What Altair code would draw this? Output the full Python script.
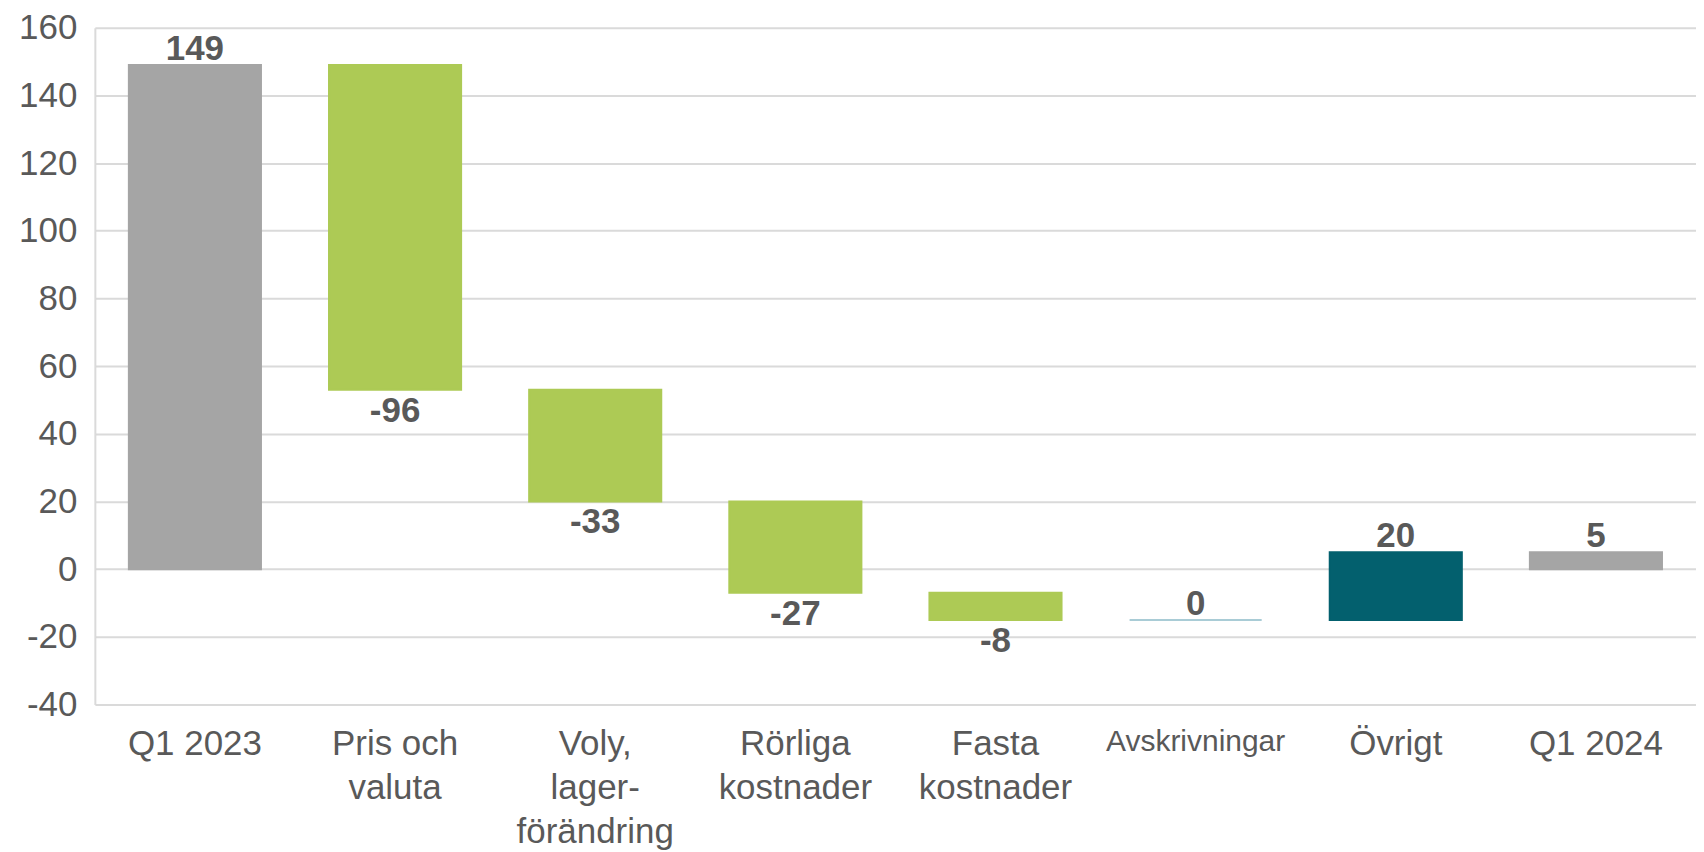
import altair as alt
import pandas as pd

categories = ["Q1 2023", "Pris och\nvaluta", "Voly,\nlager-\nförändring", "Rörliga\nkostnader",
              "Fasta\nkostnader", "Avskrivningar", "Övrigt", "Q1 2024"]
start_value = 149
deltas = [-96, -33, -27, -8, 0, 20]
end_value = 5
kinds = ["total", "neg", "neg", "neg", "neg", "zero", "pos", "total"]
label_texts = ["149", "-96", "-33", "-27", "-8", "0", "20", "5"]
y_ticks = [-40, -20, 0, 20, 40, 60, 80, 100, 120, 140, 160]

colors = {"total": "#A5A5A5", "neg": "#ADCA55", "zero": "#A9CCD6", "pos": "#03606E"}

rows = []
rows.append(dict(cat=categories[0], y0=0, y1=start_value, kind=kinds[0], lab=label_texts[0]))
run = start_value
for i, d in enumerate(deltas):
    new = run + d
    rows.append(dict(cat=categories[i + 1], y0=run, y1=new, kind=kinds[i + 1], lab=label_texts[i + 1]))
    run = new
rows.append(dict(cat=categories[-1], y0=0, y1=end_value, kind=kinds[-1], lab=label_texts[-1]))
df = pd.DataFrame(rows)
df["top"] = df[["y0", "y1"]].max(axis=1)
df["bot"] = df[["y0", "y1"]].min(axis=1)
df["above"] = df["kind"] != "neg"

FONT = "Liberation Sans"
TXT = "#595959"
FS = 35

xenc = alt.X("cat:N", sort=categories, title=None,
             scale=alt.Scale(paddingInner=0.34, paddingOuter=0.17),
             axis=alt.Axis(labelExpr="split(datum.label, '\\n')", labelAngle=0,
                           labelFontSize={"condition": {"test": "datum.label == 'Avskrivningar'", "value": 30}, "value": FS},
                           labelFont=FONT,
                           labelColor=TXT, labelLineHeight=44, labelPadding=22, labelLimit=400,
                           labelBaseline="top", domain=False, ticks=False, grid=False))

color_scale = alt.Scale(domain=list(colors.keys()), range=list(colors.values()))

bars = alt.Chart(df).mark_bar(strokeWidth=2).encode(
    x=xenc,
    y=alt.Y("y0:Q", title=None, scale=alt.Scale(domain=[-40, 160], nice=False),
            axis=alt.Axis(values=y_ticks, labelExpr="'' + datum.value", labelFontSize=FS,
                          labelColor=TXT, labelFont=FONT,
                          ticks=False, labelPadding=18, grid=True, gridColor="#DADADA",
                          gridWidth=2, domain=True, domainColor="#DADADA", domainWidth=2,
                          minExtent=80, maxExtent=80)),
    y2="y1:Q",
    color=alt.Color("kind:N", scale=color_scale, legend=None),
    stroke=alt.Stroke("kind:N", scale=color_scale, legend=None),
)

above = alt.Chart(df).transform_filter("datum.above").mark_text(
    fontSize=FS, fontWeight="bold", font=FONT, color=TXT, baseline="alphabetic", dy=-5
).encode(x=alt.X("cat:N", sort=categories), y="top:Q", text="lab:N")

below = alt.Chart(df).transform_filter("!datum.above").mark_text(
    fontSize=FS, fontWeight="bold", font=FONT, color=TXT, baseline="top", dy=4
).encode(x=alt.X("cat:N", sort=categories), y="bot:Q", text="lab:N")

chart = alt.layer(bars, above, below).properties(
    width=1604, height=678,
    padding={"left": 7, "top": 2, "right": 0, "bottom": 0},
).configure_view(stroke=None)

chart.save("out.html", embed_options={"renderer": "svg", "actions": False})
